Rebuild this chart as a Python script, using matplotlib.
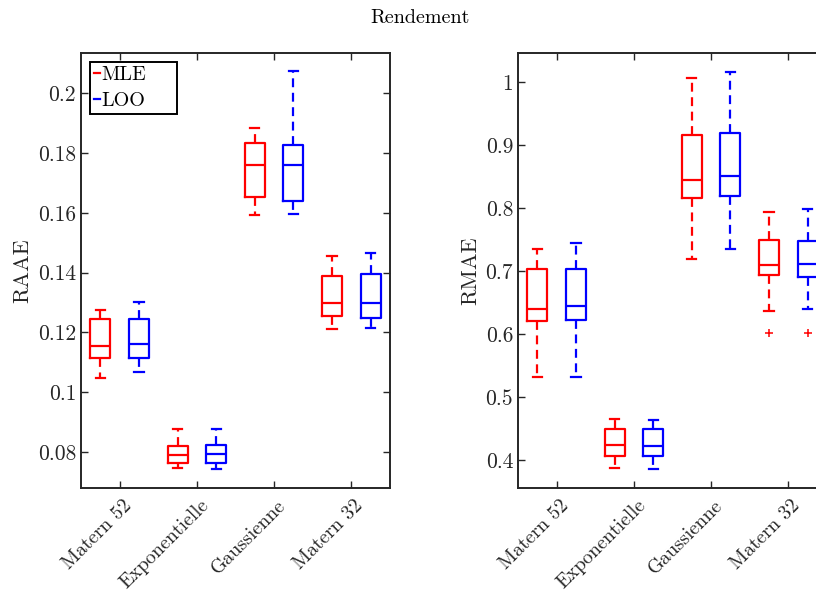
import matplotlib
matplotlib.use('Agg')
import matplotlib.pyplot as plt
import matplotlib.transforms as mtransforms
import numpy as np

plt.rcParams['font.family'] = 'cmr10'
plt.rcParams['mathtext.fontset'] = 'cm'
plt.rcParams['axes.unicode_minus'] = False
plt.rcParams['axes.formatter.use_mathtext'] = True

# Categories
categories = ['Matern 52', 'Exponentielle', 'Gaussienne', 'Matern 32']

# RAAE box statistics (per category): lower whisker, Q1, median, Q3, upper whisker
raae_mle_lo = [0.1049, 0.0746, 0.1593, 0.1211]
raae_mle_q1 = [0.1116, 0.0762, 0.1652, 0.1256]
raae_mle_med = [0.1153, 0.0791, 0.1760, 0.1298]
raae_mle_q3 = [0.1245, 0.0820, 0.1833, 0.1390]
raae_mle_hi = [0.1276, 0.0876, 0.1883, 0.1457]

raae_loo_lo = [0.1069, 0.0744, 0.1597, 0.1215]
raae_loo_q1 = [0.1116, 0.0762, 0.1639, 0.1249]
raae_loo_med = [0.1160, 0.0792, 0.1758, 0.1298]
raae_loo_q3 = [0.1245, 0.0823, 0.1826, 0.1394]
raae_loo_hi = [0.1302, 0.0876, 0.2073, 0.1466]

# RMAE box statistics
rmae_mle_lo = [0.532, 0.3883, 0.720, 0.6374]
rmae_mle_q1 = [0.6216, 0.4073, 0.8163, 0.694]
rmae_mle_med = [0.640, 0.4238, 0.8454, 0.710]
rmae_mle_q3 = [0.703, 0.4497, 0.9158, 0.7496]
rmae_mle_hi = [0.7353, 0.4655, 1.0067, 0.794]
rmae_mle_out = [[], [], [], [0.6025]]

rmae_loo_lo = [0.532, 0.3867, 0.7353, 0.6406]
rmae_loo_q1 = [0.6222, 0.4063, 0.8195, 0.6914]
rmae_loo_med = [0.6449, 0.4233, 0.8507, 0.7115]
rmae_loo_q3 = [0.7036, 0.4497, 0.9194, 0.748]
rmae_loo_hi = [0.7454, 0.464, 1.0157, 0.7983]
rmae_loo_out = [[], [], [], [0.6025]]

raae_ticks = [0.08, 0.1, 0.12, 0.14, 0.16, 0.18, 0.2]
rmae_ticks = [0.4, 0.5, 0.6, 0.7, 0.8, 0.9, 1.0]

dark = (0.15, 0.15, 0.15)


def make_stats(lo, q1, med, q3, hi, out=None):
    stats = []
    for i in range(len(lo)):
        stats.append({'whislo': lo[i], 'q1': q1[i], 'med': med[i], 'q3': q3[i],
                      'whishi': hi[i], 'fliers': out[i] if out else []})
    return stats


def draw_boxes(ax, stats, positions, color):
    lw = 1.6
    ax.bxp(stats, positions=positions, widths=0.26, capwidths=0.12,
           showfliers=True, manage_ticks=False,
           boxprops=dict(color=color, linewidth=lw),
           medianprops=dict(color=color, linewidth=lw),
           whiskerprops=dict(color=color, linewidth=lw, linestyle=(0, (4, 2.5))),
           capprops=dict(color=color, linewidth=lw),
           flierprops=dict(marker='+', markeredgecolor='red', markersize=6,
                           markeredgewidth=1.1, linestyle='none'))


def style_axes(ax, ticks, ylim, ylabel):
    x = np.arange(1, len(categories) + 1)
    ax.set_xlim(0.5, 4.5)
    ax.set_ylim(*ylim)
    ax.set_xticks(x)
    ax.set_xticklabels(categories, rotation=45, ha='right', va='center',
                       rotation_mode='anchor', fontsize=14.3, color=dark)
    ax.set_yticks(ticks)
    ax.set_yticklabels([f'{t:g}' for t in ticks], fontsize=15.5, color=dark)
    ax.tick_params(direction='in', length=5, width=1.0, top=True, right=True,
                   color=dark)
    ax.tick_params(axis='x', pad=10.5)
    # shift rotated labels a bit to the right, like the reference
    offset = mtransforms.ScaledTranslation(6.5 / 72, 0, fig.dpi_scale_trans)
    for lab in ax.get_xticklabels():
        lab.set_transform(lab.get_transform() + offset)
    for sp in ax.spines.values():
        sp.set_color(dark)
        sp.set_linewidth(1.4)
    ax.set_ylabel(ylabel, fontsize=16, color=dark)


fig = plt.figure(figsize=(8.16, 5.93), dpi=100)
ax1 = fig.add_axes([81 / 816, 1 - 488 / 593, 309 / 816, 435 / 593])
ax2 = fig.add_axes([518 / 816, 1 - 488 / 593, 309 / 816, 435 / 593])

pos = np.arange(1, len(categories) + 1)

draw_boxes(ax1, make_stats(raae_mle_lo, raae_mle_q1, raae_mle_med, raae_mle_q3, raae_mle_hi),
           pos - 0.25, 'red')
draw_boxes(ax1, make_stats(raae_loo_lo, raae_loo_q1, raae_loo_med, raae_loo_q3, raae_loo_hi),
           pos + 0.25, 'blue')
style_axes(ax1, raae_ticks, (0.068, 0.2134), 'RAAE')

draw_boxes(ax2, make_stats(rmae_mle_lo, rmae_mle_q1, rmae_mle_med, rmae_mle_q3, rmae_mle_hi,
                           rmae_mle_out), pos - 0.25, 'red')
draw_boxes(ax2, make_stats(rmae_loo_lo, rmae_loo_q1, rmae_loo_med, rmae_loo_q3, rmae_loo_hi,
                           rmae_loo_out), pos + 0.25, 'blue')
style_axes(ax2, rmae_ticks, (0.356, 1.0465), 'RMAE')

# Legend
h1, = ax1.plot([], [], color='red', linewidth=1.6)
h2, = ax1.plot([], [], color='blue', linewidth=1.6)
leg = ax1.legend([h1, h2], ['MLE', 'LOO'],
                 loc='upper left',
                 bbox_to_anchor=((90 - 81) / 309, 1 - (116 - 53) / 435, 87 / 309, 54 / 435),
                 mode='expand', borderaxespad=0, fontsize=14.5, handlelength=0.3,
                 handletextpad=0.05, borderpad=0.2, labelspacing=0.4, fancybox=False,
                 framealpha=1)
leg.get_frame().set_edgecolor('black')
leg.get_frame().set_linewidth(1.4)

fig.text(420 / 816, 1 - 18 / 593, 'Rendement', ha='center', va='center', fontsize=14.5)

fig.savefig('out.png', dpi=100)
